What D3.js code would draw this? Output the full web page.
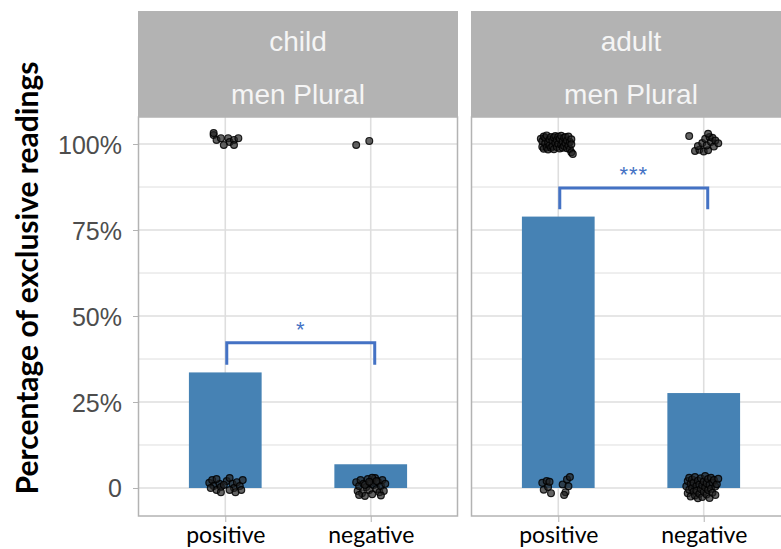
<!DOCTYPE html>
<html>
<head>
<meta charset="utf-8">
<script src="https://cdn.jsdelivr.net/npm/d3@7"></script>
<style>
  html, body { margin: 0; padding: 0; background: #fff; }
  svg { display: block; }
</style>
</head>
<body>
<svg id="chart" width="781" height="549"></svg>
<script>
// Facets, categories and bar heights (share of exclusive readings)
const panels = ["child", "adult"];
const panelSubtitle = "men Plural";
const categories = ["positive", "negative"];
const childValues = [0.336, 0.069];
const adultValues = [0.789, 0.276];

// Y axis breaks and labels
const yTicks = [0, 0.25, 0.5, 0.75, 1];
const yTickLabels = ["0", "25%", "50%", "75%", "100%"];
const yMinor = [0.125, 0.375, 0.625, 0.875];

// Individual responses: [horizontal jitter (hundredths of a category), response in %]
const childPositivePts = [
  [-8,102.6],[-6,101.2],[-3,101.7],[2,101.7],[3,100.6],[6,101.2],[9,101.7],[-1,99.7],[6,99.7],[-8,103.2],
  [-11,1.5],[-9,2.3],[-8,0.6],[-6,-0.6],[-4,1.2],[-6,2.6],[-3,0.3],[-10,0],[1,2.0],[3,2.9],
  [5,1.2],[6,0],[8,1.7],[10,0.6],[11,-0.6],[7,-1.2],[3,-0.6],[12,2.3],[-1,0.9],[-3,-1.2]
];
const childNegativePts = [
  [-10,99.7],[-1,100.9],
  [-10,1.7],[-9,-0.9],[-8,0.6],[-7,2.3],[-6,-1.5],[-5,1.2],[-4,-2.3],[-3,0.3],[-2,2.6],[-1,-0.6],
  [0,1.5],[1,-1.8],[2,0.9],[3,2.9],[4,-0.3],[5,1.8],[6,-1.2],[7,0.6],[8,2.3],[9,-0.9],[10,1.2],
  [-8,-2.0],[-4,0.9],[1,3.0],[4,2.0],[7,-2.2],[-1,1.8]
];
const adultPositivePts = [
  [-12,101.5],[-11,99.2],[-11,100.8],[-10,102.2],[-10,98.6],[-9,100.2],[-9,101.8],[-8,99.0],[-8,102.5],
  [-7,100.5],[-7,98.4],[-6,101.3],[-6,99.6],[-5,102.0],[-5,98.9],[-4,100.9],[-4,99.3],[-3,101.9],
  [-3,98.5],[-2,100.3],[-2,102.3],[-1,99.1],[-1,101.2],[0,100.0],[0,102.1],[1,98.7],[1,101.5],
  [2,99.8],[2,102.4],[3,100.7],[3,98.9],[4,101.8],[4,99.4],[5,100.2],[5,102.0],[6,98.8],[6,101.0],
  [7,99.6],[7,102.2],[8,100.6],[8,98.5],[9,101.4],[9,99.9],[9,97.6],[10,97.1],
  [-11,1.5],[-10,-0.5],[-8,2.0],[-7,0.3],[-5,-1.5],[-6,1.8],[3,1.0],[5,-1.2],[6,2.5],[7,0.5],[8,3.2],[4,-2.0]
];
const adultNegativePts = [
  [-10,102.3],[-6,98.0],[-3,98.3],[0,97.8],[3,98.2],[-4,99.4],[-1,100.3],[1,101.5],[2,99.6],[4,102.0],
  [5,100.6],[6,101.8],[7,99.3],[8,101.0],[10,100.2],[3,103.0],
  [-12,0.5],[-11,-1.5],[-11,2.0],[-10,-0.5],[-10,3.0],[-9,1.2],[-9,-2.5],[-8,0.0],[-8,2.5],[-7,-1.0],
  [-7,1.5],[-6,3.2],[-6,-2.2],[-5,0.6],[-5,-0.8],[-4,2.1],[-4,-3.0],[-3,1.0],[-3,-1.7],[-2,2.8],
  [-2,-0.3],[-1,0.8],[-1,-2.6],[0,1.9],[0,-1.1],[1,3.5],[1,0.2],[2,-1.9],[2,1.4],[3,2.6],[3,-0.6],
  [4,0.9],[4,-2.9],[5,3.0],[5,-0.2],[6,1.6],[6,-1.4],[7,2.3],[8,0.4],[8,-2.0],[9,1.1],[10,2.7]
];

// Significance brackets (heights in data units)
const brackets = [
  { panel: "child", top: 0.422, foot: 0.358, label: "*" },
  { panel: "adult", top: 0.872, foot: 0.81, label: "***" }
];

const panelData = {
  child: { values: childValues, points: [childPositivePts, childNegativePts] },
  adult: { values: adultValues, points: [adultPositivePts, adultNegativePts] }
};

const svg = d3.select("#chart");

const panelW = 320;
const panelLeft = [138, 471];
const stripTop = 11, stripBottom = 117, panelBottom = 516;

const y = d3.scaleLinear().domain([-0.0814, 1.0785]).range([panelBottom, stripBottom]);

const grey70 = "#b3b3b3";
const gridCol = "#dedede";
const barCol = "#4682b4";
const sigCol = "#4472c4";

// Y axis title
svg.append("text")
  .attr("transform", `translate(38,278) rotate(-90)`)
  .attr("text-anchor", "middle")
  .style("font-family", "Lato, 'Open Sans', sans-serif")
  .style("font-weight", "bold")
  .style("font-size", "30px")
  .style("fill", "#000")
  .text("Percentage of exclusive readings");

// Y axis labels and ticks (left of first panel)
const yAxis = d3.axisLeft(y).tickValues(yTicks)
  .tickFormat((d, i) => yTickLabels[i]).tickSize(5).tickPadding(11);
const yg = svg.append("g").attr("transform", `translate(${panelLeft[0]},0)`).call(yAxis);
yg.select(".domain").remove();
yg.selectAll(".tick line").attr("stroke", grey70);
yg.selectAll(".tick text")
  .style("font-family", "'Liberation Sans', Arial, sans-serif")
  .style("font-size", "25px")
  .attr("fill", "#4d4d4d")
  .attr("dy", "0.36em");

panels.forEach((p, pi) => {
  const left = panelLeft[pi];
  // ggplot discrete expansion of 0.6 units on each side
  const step = panelW / (categories.length - 1 + 1.2);
  const xc = c => left + (0.6 + categories.indexOf(c)) * step;

  const g = svg.append("g");
  const clipId = "clip-" + p;
  svg.append("clipPath").attr("id", clipId)
    .append("rect").attr("x", left).attr("y", stripBottom).attr("width", panelW).attr("height", panelBottom - stripBottom);

  const body = g.append("g").attr("clip-path", `url(#${clipId})`);

  // minor gridlines
  body.selectAll("line.minor").data(yMinor).join("line")
    .attr("x1", left).attr("x2", left + panelW)
    .attr("y1", d => y(d)).attr("y2", d => y(d))
    .attr("stroke", gridCol).attr("stroke-width", 1);
  // major gridlines
  body.selectAll("line.major").data(yTicks).join("line")
    .attr("x1", left).attr("x2", left + panelW)
    .attr("y1", d => y(d)).attr("y2", d => y(d))
    .attr("stroke", gridCol).attr("stroke-width", 1.6);
  body.selectAll("line.vmajor").data(categories).join("line")
    .attr("x1", d => xc(d)).attr("x2", d => xc(d))
    .attr("y1", stripBottom).attr("y2", panelBottom)
    .attr("stroke", gridCol).attr("stroke-width", 1.6);

  // bars
  const vals = panelData[p].values;
  body.selectAll("rect.bar").data(categories).join("rect")
    .attr("x", d => xc(d) - step * 0.25)
    .attr("width", step * 0.5)
    .attr("y", (d, i) => y(vals[i]))
    .attr("height", (d, i) => y(0) - y(vals[i]))
    .attr("fill", barCol);

  // jittered responses
  categories.forEach((c, ci) => {
    body.selectAll(null).data(panelData[p].points[ci]).join("circle")
      .attr("cx", d => xc(c) + d[0] / 100 * step)
      .attr("cy", d => y(d[1] / 100))
      .attr("r", 3.4)
      .attr("fill", "#222").attr("fill-opacity", 0.7)
      .attr("stroke", "#000").attr("stroke-opacity", 0.85).attr("stroke-width", 1.2);
  });

  // significance bracket
  brackets.filter(b => b.panel === p).forEach(b => {
    const x1 = xc(categories[0]) + 1.5, x2 = xc(categories[1]) + 4;
    body.append("path")
      .attr("d", `M${x1},${y(b.foot)}V${y(b.top)}H${x2}V${y(b.foot)}`)
      .attr("fill", "none").attr("stroke", sigCol).attr("stroke-width", 3);
    body.append("text")
      .attr("x", (x1 + x2) / 2).attr("y", y(b.top) - 6)
      .attr("text-anchor", "middle")
      .style("font-family", "'Liberation Sans', Arial, sans-serif")
      .style("font-size", "22px")
      .attr("fill", sigCol)
      .attr("letter-spacing", "1px")
      .text(b.label);
  });

  // panel border
  g.append("rect").attr("x", left + 0.5).attr("y", stripBottom)
    .attr("width", panelW - 1).attr("height", panelBottom - stripBottom)
    .attr("fill", "none").attr("stroke", grey70).attr("stroke-width", 1.5);

  // strip
  g.append("rect").attr("x", left).attr("y", stripTop)
    .attr("width", panelW).attr("height", stripBottom - stripTop)
    .attr("fill", grey70);
  [p, panelSubtitle].forEach((t, ti) => {
    g.append("text")
      .attr("x", left + panelW / 2)
      .attr("y", ti === 0 ? 51 : 104)
      .attr("text-anchor", "middle")
      .style("font-family", "'Liberation Sans', Arial, sans-serif")
      .style("font-size", "28px")
      .attr("fill", "#f5f5f5")
      .text(t);
  });

  // x axis ticks and labels
  const xAxis = d3.axisBottom(d3.scalePoint().domain(categories).range([xc(categories[0]), xc(categories[1])]))
    .tickSize(6).tickPadding(5);
  const xg = svg.append("g").attr("transform", `translate(0,${panelBottom})`).call(xAxis);
  xg.select(".domain").remove();
  xg.selectAll(".tick line").attr("stroke", grey70);
  xg.selectAll(".tick text")
    .style("font-family", "Lato, 'Open Sans', sans-serif")
    .style("font-size", "23px")
    .attr("fill", "#000");
});
</script>
</body>
</html>
